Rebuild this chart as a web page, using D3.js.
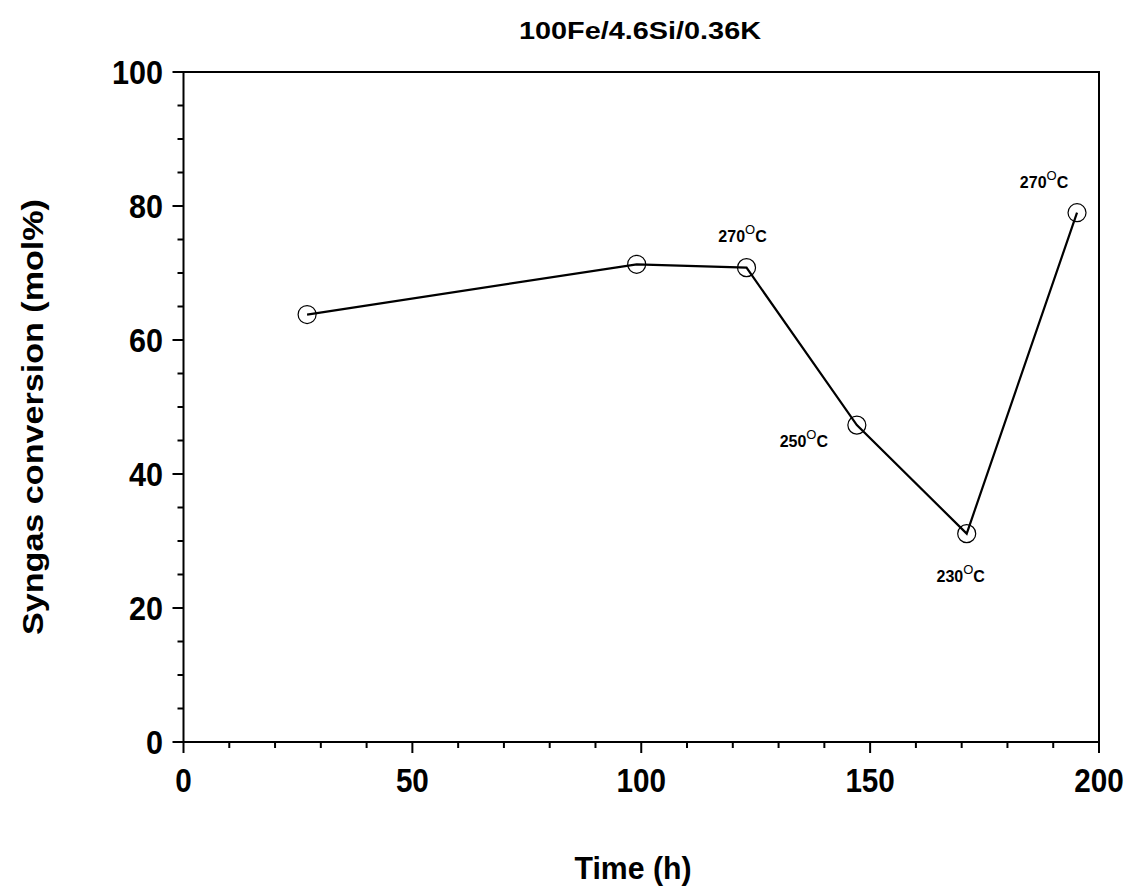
<!DOCTYPE html>
<html><head><meta charset="utf-8">
<script src="https://cdn.jsdelivr.net/npm/d3@7"></script>
<style>body{margin:0;background:#fff;} text{font-family:"Liberation Sans",Arial,sans-serif;font-weight:bold;}</style>
</head><body>
<svg id="c" width="1130" height="893"></svg>
<script>
const timeH = [27, 99, 123, 147.1, 171.1, 195.2];
const conversion = [63.8, 71.3, 70.8, 47.3, 31.1, 79.0];
const tempLabels = [
  {t: 123, v: 70.8, label: "270", dx: -4, dy: -26},
  {t: 147.1, v: 47.3, label: "250", dx: -53, dy: 22},
  {t: 171.1, v: 31.1, label: "230", dx: -6, dy: 48},
  {t: 195.2, v: 79.0, label: "270", dx: -33, dy: -25}
];
const xTicks = [0, 50, 100, 150, 200];
const yTicks = [0, 20, 40, 60, 80, 100];
const title = "100Fe/4.6Si/0.36K";
const xTitle = "Time (h)";
const yTitle = "Syngas conversion (mol%)";

const svg = d3.select("#c");
const L = 183.5, R = 1099, T = 72, B = 742;
const x = d3.scaleLinear().domain([0, 200]).range([L, R]);
const y = d3.scaleLinear().domain([0, 100]).range([B, T]);

// frame
svg.append("rect").attr("x", L).attr("y", T).attr("width", R - L).attr("height", B - T)
  .attr("fill", "none").attr("stroke", "#000").attr("stroke-width", 2);

// x axis
const xMinor = d3.range(0, 201, 10);
svg.append("g").selectAll("line").data(xMinor).join("line")
  .attr("x1", d => x(d)).attr("x2", d => x(d))
  .attr("y1", B).attr("y2", d => B + (d % 50 === 0 ? 11 : 6))
  .attr("stroke", "#000").attr("stroke-width", 2);
svg.append("g").selectAll("text").data(xTicks).join("text")
  .attr("x", d => x(d)).attr("y", 792).attr("text-anchor", "middle")
  .attr("font-size", 33)
  .attr("textLength", d => String(d).length * 16.5).attr("lengthAdjust", "spacingAndGlyphs")
  .text(d => d);

// y axis
const yMinor = d3.range(0, 101, 5);
svg.append("g").selectAll("line").data(yMinor).join("line")
  .attr("y1", d => y(d)).attr("y2", d => y(d))
  .attr("x1", L).attr("x2", d => L - (d % 20 === 0 ? 11 : 6))
  .attr("stroke", "#000").attr("stroke-width", 2);
svg.append("g").selectAll("text").data(yTicks).join("text")
  .attr("x", 163).attr("y", d => y(d) + 12).attr("text-anchor", "end")
  .attr("font-size", 33)
  .attr("textLength", d => String(d).length * 17).attr("lengthAdjust", "spacingAndGlyphs")
  .text(d => d);

// titles
svg.append("text").attr("x", 640).attr("y", 39).attr("text-anchor", "middle")
  .attr("font-size", 24).attr("textLength", 242).attr("lengthAdjust", "spacingAndGlyphs").text(title);
svg.append("text").attr("x", 633).attr("y", 879).attr("text-anchor", "middle")
  .attr("font-size", 31).attr("textLength", 117).attr("lengthAdjust", "spacingAndGlyphs").text(xTitle);
svg.append("text").attr("transform", "translate(43,417) rotate(-90)").attr("text-anchor", "middle")
  .attr("font-size", 30).attr("textLength", 436).attr("lengthAdjust", "spacingAndGlyphs").text(yTitle);

// line
const pts = timeH.map((t, i) => [t, conversion[i]]);
svg.append("path").datum(pts)
  .attr("d", d3.line().x(d => x(d[0])).y(d => y(d[1])))
  .attr("fill", "none").attr("stroke", "#000").attr("stroke-width", 2.2);
svg.append("g").selectAll("circle").data(pts).join("circle")
  .attr("cx", d => x(d[0])).attr("cy", d => y(d[1])).attr("r", 9)
  .attr("fill", "none").attr("stroke", "#000").attr("stroke-width", 1.2);

// temperature labels
const tl = svg.append("g").selectAll("text").data(tempLabels).join("text")
  .attr("x", d => x(d.t) + d.dx).attr("y", d => y(d.v) + d.dy)
  .attr("text-anchor", "middle").attr("font-size", 16);
tl.append("tspan").text(d => d.label);
tl.append("tspan").attr("dy", -8).attr("font-size", 13).attr("font-weight", "normal").text("O");
tl.append("tspan").attr("dy", 8).text("C");
</script>
</body></html>
